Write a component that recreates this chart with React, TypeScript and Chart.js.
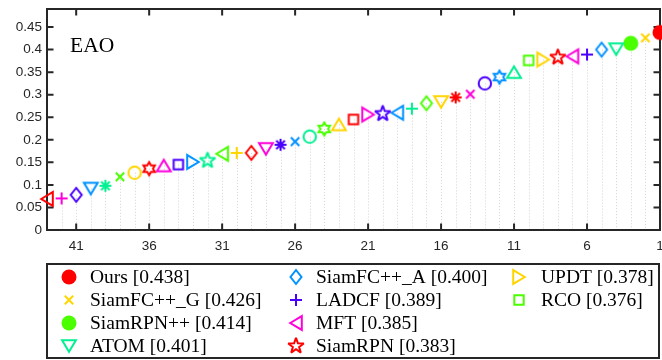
import React, { useEffect, useRef } from 'react';
import { Chart, registerables } from 'chart.js';

Chart.register(...registerables);

// ---- data ----
const EAO_VALUES = [
  0.438, 0.426, 0.414, 0.401, 0.400, 0.389, 0.385, 0.383, 0.378, 0.376,
  0.350, 0.339, 0.325, 0.301, 0.294, 0.284, 0.281, 0.269, 0.260, 0.258,
  0.256, 0.245, 0.234, 0.224, 0.207, 0.196, 0.189, 0.180, 0.171, 0.171,
  0.169, 0.154, 0.151, 0.145, 0.143, 0.136, 0.127, 0.118, 0.098, 0.092,
  0.078, 0.070, 0.069,
];
const MARKERS = [
  'filledCircle', 'x', 'filledCircle', 'triDown', 'diamond', 'plus', 'triLeft', 'pentagram', 'triRight', 'square',
  'triUp', 'hexagram', 'circle', 'x', 'asterisk', 'triDown', 'diamond', 'plus', 'triLeft', 'pentagram',
  'triRight', 'square', 'triUp', 'hexagram', 'circle', 'x', 'asterisk', 'triDown', 'diamond', 'plus',
  'triLeft', 'pentagram', 'triRight', 'square', 'triUp', 'hexagram', 'circle', 'x', 'asterisk', 'triDown',
  'diamond', 'plus', 'triLeft',
];
const PALETTE = ['#FF0000', '#FFD500', '#49FF00', '#00F092', '#0092FF', '#4900FF', '#FF00DB'];
const LEGEND_NAMES = ['Ours', 'SiamFC++_G', 'SiamRPN++', 'ATOM', 'SiamFC++_A', 'LADCF', 'MFT', 'SiamRPN', 'UPDT', 'RCO'];
const X_TICKS = [41, 36, 31, 26, 21, 16, 11, 6, 1];
const X_TICK_LABELS = ['41', '36', '31', '26', '21', '16', '11', '6', '1'];
const Y_TICKS = [0, 0.05, 0.1, 0.15, 0.2, 0.25, 0.3, 0.35, 0.4, 0.45];
const Y_TICK_LABELS = ['0', '0.05', '0.1', '0.15', '0.2', '0.25', '0.3', '0.35', '0.4', '0.45'];
const TITLE = 'EAO';

const AXIS_COLOR = '#262626';

function makeMarker(shape: string, color: string): HTMLCanvasElement {
  const S = 28;
  const c = document.createElement('canvas');
  c.width = S;
  c.height = S;
  const g = c.getContext('2d')!;
  g.translate(S / 2, S / 2);
  g.strokeStyle = color;
  g.fillStyle = color;
  g.lineWidth = 2;
  g.lineJoin = 'miter';
  g.miterLimit = 3;
  g.beginPath();
  const star = (n: number, R: number, r: number) => {
    for (let i = 0; i < 2 * n; i++) {
      const a = -Math.PI / 2 + (i * Math.PI) / n;
      const rad = i % 2 === 0 ? R : r;
      const px = Math.cos(a) * rad;
      const py = Math.sin(a) * rad;
      if (i === 0) g.moveTo(px, py);
      else g.lineTo(px, py);
    }
    g.closePath();
  };
  switch (shape) {
    case 'filledCircle':
      g.arc(0, 0, 7.5, 0, Math.PI * 2);
      g.fill();
      return c;
    case 'circle':
      g.arc(0, 0, 6.2, 0, Math.PI * 2);
      break;
    case 'x':
      g.moveTo(-4.2, -4.2); g.lineTo(4.2, 4.2);
      g.moveTo(-4.2, 4.2); g.lineTo(4.2, -4.2);
      break;
    case 'plus':
      g.moveTo(-6, 0); g.lineTo(6, 0);
      g.moveTo(0, -6); g.lineTo(0, 6);
      break;
    case 'asterisk':
      g.moveTo(-6, 0); g.lineTo(6, 0);
      g.moveTo(0, -6); g.lineTo(0, 6);
      g.moveTo(-4.3, -4.3); g.lineTo(4.3, 4.3);
      g.moveTo(-4.3, 4.3); g.lineTo(4.3, -4.3);
      break;
    case 'triUp':
      g.moveTo(0, -5.8); g.lineTo(6.9, 5.8); g.lineTo(-6.9, 5.8); g.closePath();
      break;
    case 'triDown':
      g.moveTo(0, 5.8); g.lineTo(6.9, -5.8); g.lineTo(-6.9, -5.8); g.closePath();
      break;
    case 'triLeft':
      g.moveTo(-5.8, 0); g.lineTo(5.8, -6.9); g.lineTo(5.8, 6.9); g.closePath();
      break;
    case 'triRight':
      g.moveTo(5.8, 0); g.lineTo(-5.8, -6.9); g.lineTo(-5.8, 6.9); g.closePath();
      break;
    case 'diamond':
      g.moveTo(0, -7); g.lineTo(5.5, 0); g.lineTo(0, 7); g.lineTo(-5.5, 0); g.closePath();
      break;
    case 'square':
      g.rect(-4.7, -4.7, 9.4, 9.4);
      break;
    case 'pentagram':
      star(5, 8.2, 3.3);
      break;
    case 'hexagram':
      star(6, 6.6, 3.8);
      break;
  }
  g.stroke();
  return c;
}

export default function App() {
  const ref = useRef<HTMLCanvasElement>(null);

  useEffect(() => {
    const canvas = ref.current!;
    const markerImgs = EAO_VALUES.map((_, i) => makeMarker(MARKERS[i], PALETTE[i % PALETTE.length]));
    const points = EAO_VALUES.map((v, i) => ({ x: i + 1, y: v }));

    const decorPlugin = {
      id: 'decor',
      beforeDatasetsDraw(chart: any) {
        const { ctx, chartArea } = chart;
        const xs = chart.scales.x;
        const ys = chart.scales.y;
        ctx.save();
        // stems
        ctx.strokeStyle = '#d4d4d4';
        ctx.lineWidth = 1;
        ctx.setLineDash([1, 2]);
        const y0 = ys.getPixelForValue(0);
        points.forEach((p) => {
          const px = Math.round(xs.getPixelForValue(p.x)) + 0.5;
          ctx.beginPath();
          ctx.moveTo(px, ys.getPixelForValue(p.y));
          ctx.lineTo(px, y0);
          ctx.stroke();
        });
        ctx.setLineDash([]);
        // box
        ctx.strokeStyle = AXIS_COLOR;
        ctx.lineWidth = 2;
        const { left, right, top, bottom } = chartArea;
        ctx.strokeRect(left, top, right - left, bottom - top);
        // inward ticks
        const tl = 6.5;
        ctx.beginPath();
        X_TICKS.forEach((t) => {
          const px = xs.getPixelForValue(t);
          ctx.moveTo(px, bottom); ctx.lineTo(px, bottom - tl);
          ctx.moveTo(px, top); ctx.lineTo(px, top + tl);
        });
        Y_TICKS.forEach((t) => {
          const py = ys.getPixelForValue(t);
          ctx.moveTo(left, py); ctx.lineTo(left + tl, py);
          ctx.moveTo(right, py); ctx.lineTo(right - tl, py);
        });
        ctx.stroke();
        // title
        ctx.fillStyle = '#000';
        ctx.font = '21.5px "Liberation Serif"';
        ctx.textBaseline = 'alphabetic';
        ctx.textAlign = 'left';
        ctx.fillText(TITLE, 70, 52);
        ctx.restore();
      },
      afterDraw(chart: any) {
        const { ctx } = chart;
        ctx.save();
        // legend box
        ctx.strokeStyle = AXIS_COLOR;
        ctx.lineWidth = 2;
        ctx.strokeRect(47, 264, 612, 94);
        const colMarkerX = [69, 296, 519];
        const colTextX = [90, 316, 541];
        const rowY = [277, 300, 323, 346];
        ctx.font = '19.5px "Liberation Serif"';
        ctx.fillStyle = '#000';
        ctx.textBaseline = 'middle';
        ctx.textAlign = 'left';
        LEGEND_NAMES.forEach((name, i) => {
          const col = Math.floor(i / 4);
          const row = i % 4;
          const img = markerImgs[i];
          ctx.drawImage(img, colMarkerX[col] - img.width / 2, rowY[row] - img.height / 2);
          ctx.fillText(`${name} [${EAO_VALUES[i].toFixed(3)}]`, colTextX[col], rowY[row] + 1);
        });
        ctx.restore();
      },
    };

    const tickFont = { family: '"Liberation Sans", Arial, sans-serif', size: 13.5 };

    const chart = new Chart(canvas, {
      type: 'scatter',
      data: {
        datasets: [
          {
            data: points,
            pointStyle: markerImgs as any,
            pointRadius: 8,
            pointHoverRadius: 8,
            showLine: false,
            clip: false as any,
          },
        ],
      },
      options: {
        responsive: false,
        animation: false,
        devicePixelRatio: 1,
        layout: { autoPadding: false, padding: { left: 0, right: 2, top: 9, bottom: 0 } },
        plugins: { legend: { display: false }, tooltip: { enabled: false } },
        events: [],
        scales: {
          x: {
            type: 'linear',
            min: 1,
            max: 43,
            reverse: true,
            grid: { display: false, drawTicks: false },
            border: { display: false },
            afterBuildTicks: (s: any) => {
              s.ticks = X_TICKS.map((v) => ({ value: v }));
            },
            afterFit: (s: any) => {
              s.height = 130;
              s.paddingLeft = 0;
              s.paddingRight = 0;
            },
            ticks: {
              autoSkip: false,
              maxRotation: 0,
              padding: 8,
              color: AXIS_COLOR,
              font: tickFont,
              callback: (_v: any, i: number) => X_TICK_LABELS[i],
            },
          },
          y: {
            type: 'linear',
            min: 0,
            max: 0.49,
            grid: { display: false, drawTicks: false },
            border: { display: false },
            afterBuildTicks: (s: any) => {
              s.ticks = Y_TICKS.map((v) => ({ value: v }));
            },
            afterFit: (s: any) => {
              s.width = 47;
              s.paddingTop = 0;
              s.paddingBottom = 0;
            },
            ticks: {
              autoSkip: false,
              padding: 5,
              color: AXIS_COLOR,
              font: tickFont,
              callback: (_v: any, i: number) => Y_TICK_LABELS[i],
            },
          },
        },
      },
      plugins: [decorPlugin],
    });
    return () => chart.destroy();
  }, []);

  return (
    <div style={{ position: 'fixed', left: 0, top: 0, width: 662, height: 360, background: '#fff' }}>
      <canvas ref={ref} width={662} height={360} style={{ display: 'block' }} />
    </div>
  );
}
